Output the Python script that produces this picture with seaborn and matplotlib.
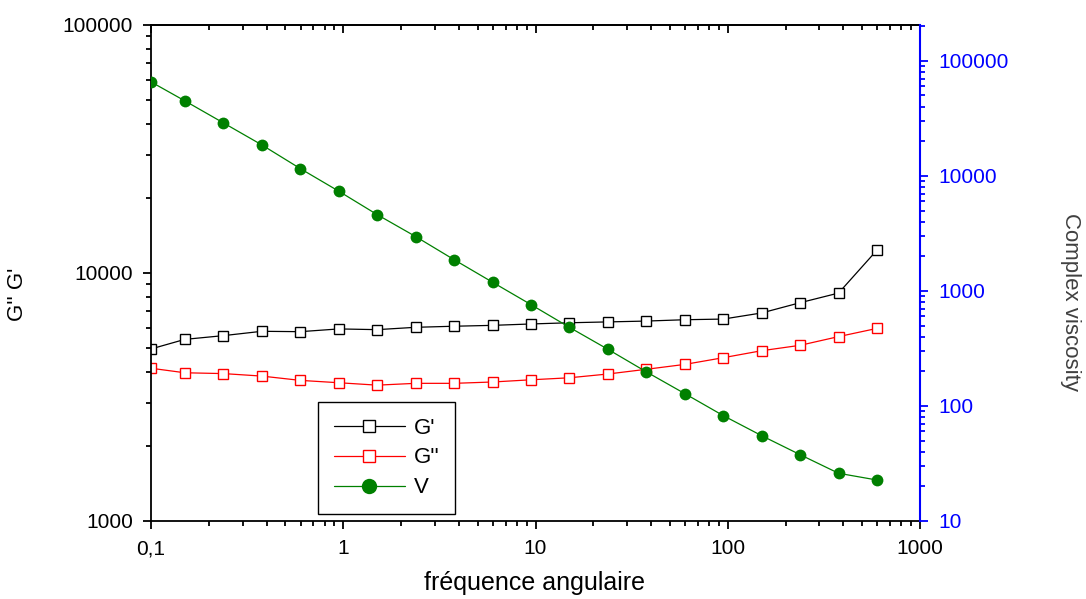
import numpy as np
import matplotlib
matplotlib.use("Agg")
import matplotlib.pyplot as plt
import seaborn as sns
from matplotlib.ticker import LogLocator, FuncFormatter, NullFormatter

# angular frequency (rad/s) and moduli
freq = [0.1, 0.15, 0.238, 0.377, 0.598, 0.948, 1.5, 2.38, 3.77, 5.98,
        9.48, 15.0, 23.8, 37.7, 59.8, 94.8, 150, 238, 377, 598]
g_storage = [4940, 5400, 5590, 5820, 5800, 5950, 5910, 6040, 6100, 6150,
             6230, 6300, 6350, 6400, 6480, 6520, 6900, 7590, 8300, 12380]
g_loss = [4130, 3960, 3930, 3840, 3690, 3610, 3530, 3590, 3590, 3635,
          3710, 3780, 3915, 4090, 4280, 4555, 4860, 5110, 5540, 5980]
viscosity = [65650, 44900, 28900, 18600, 11570, 7360, 4610, 2970, 1870, 1190,
             760, 483, 311, 198, 128, 82.4, 55.2, 37.7, 26.0, 22.7]
legend_labels = ["G'", "G''", "V"]

sns.set_theme(style="ticks")
plt.rcParams["font.family"] = ["Liberation Sans", "DejaVu Sans"]
plt.rcParams["text.color"] = "black"
plt.rcParams["axes.labelcolor"] = "black"

fig = plt.figure(figsize=(10.86, 5.99), dpi=100)
ax = fig.add_axes([151 / 1086, 1 - 521 / 599, (920 - 151) / 1086, (521 - 25) / 599])
ax.set_xscale("log")
ax.set_yscale("log")

sq = dict(marker="s", markersize=7, markerfacecolor="white", markeredgewidth=1, linewidth=0.9)
sns.lineplot(x=freq, y=g_storage, ax=ax, color="black", markeredgecolor="black",
             errorbar=None, **sq)
sns.lineplot(x=freq, y=g_loss, ax=ax, color="red", markeredgecolor="red",
             errorbar=None, **sq)

ax2 = ax.twinx()
ax2.set_yscale("log")
sns.lineplot(x=freq, y=viscosity, ax=ax2, color="#008000", marker="o", markersize=8.5,
             markeredgewidth=0, linewidth=0.9, errorbar=None)

ax.set_xlim(0.1, 1000)
ax.set_ylim(1000, 100000)
ax2.set_ylim(10, 2.05e5)

fmt = FuncFormatter(lambda v, p: f"{v:g}".replace(".", ","))
for axis in [ax.xaxis, ax.yaxis, ax2.yaxis]:
    axis.set_major_locator(LogLocator(base=10, numticks=20))
    axis.set_minor_locator(LogLocator(base=10, subs=np.arange(2, 10), numticks=100))
    axis.set_major_formatter(fmt)
    axis.set_minor_formatter(NullFormatter())

ax.tick_params(which="both", direction="out", width=1.3, labelsize=15, pad=7, colors="black")
ax.tick_params(which="major", length=6)
ax.tick_params(which="minor", length=3.5)
ax.tick_params(right=False, top=False)

top = ax.secondary_xaxis("top")
top.xaxis.set_major_locator(LogLocator(base=10, numticks=20))
top.xaxis.set_minor_locator(LogLocator(base=10, subs=np.arange(2, 10), numticks=100))
top.xaxis.set_major_formatter(NullFormatter())
top.xaxis.set_minor_formatter(NullFormatter())
top.tick_params(which="both", direction="in", width=1.3, labeltop=False, colors="black")
top.tick_params(which="major", length=6)
top.tick_params(which="minor", length=3.5)
top.spines["top"].set_linewidth(1.3)
top.spines["top"].set_color("black")

ax2.tick_params(axis="y", which="both", direction="out", width=1.3, colors="blue",
                labelsize=15, pad=7)
ax2.tick_params(axis="y", which="major", length=6)
ax2.tick_params(axis="y", which="minor", length=3.5)

for s in ["left", "bottom", "top"]:
    ax.spines[s].set_linewidth(1.3)
    ax.spines[s].set_color("black")
ax.spines["right"].set_visible(False)
for s in ["left", "bottom", "top"]:
    ax2.spines[s].set_visible(False)
ax2.spines["right"].set_color("blue")
ax2.spines["right"].set_linewidth(1.5)

ax.set_xlabel("fréquence angulaire", fontsize=18, color="black")
ax.xaxis.set_label_coords(535 / 1086, 1 - 571 / 599, transform=fig.transFigure)
ax.set_ylabel("G'' G'", fontsize=16, color="black")
ax.yaxis.set_label_coords(28 / 1086, 1 - 294 / 599, transform=fig.transFigure)
ax2.set_ylabel("Complex viscosity", fontsize=16, rotation=270, color="#404040",
               va="center")
ax2.yaxis.set_label_coords(1071 / 1086, 1 - 302 / 599, transform=fig.transFigure)

handles = [ax.lines[0], ax.lines[1], ax2.lines[0]]
leg = ax2.legend(handles, legend_labels, loc="upper left",
                 bbox_to_anchor=(318 / 1086, 1 - 402 / 599), bbox_transform=fig.transFigure,
                 fontsize=16, handlelength=3.2, handletextpad=0.4, labelspacing=0.4,
                 borderpad=0.7, borderaxespad=0, fancybox=False, framealpha=1,
                 markerscale=1.3)
leg.get_frame().set_edgecolor("black")
leg.get_frame().set_linewidth(1.0)

fig.savefig("out.png", dpi=100)
